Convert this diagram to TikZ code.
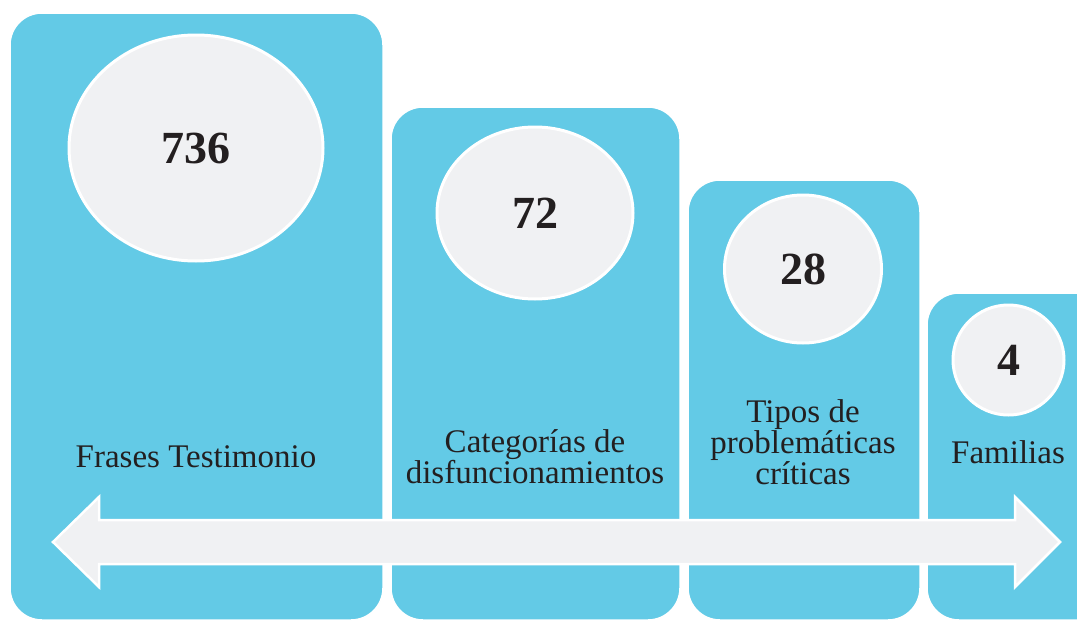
\documentclass[tikz,border=0pt]{standalone}
\usepackage{fontspec}
\setmainfont{Liberation Serif}
\usetikzlibrary{shapes.geometric}
\definecolor{boxblue}{HTML}{63CAE6}
\definecolor{bubble}{HTML}{F0F1F3}
\definecolor{ink}{HTML}{231F20}
\begin{document}
\begin{tikzpicture}[x=1pt,y=-1pt,
  panel/.style={fill=boxblue,draw=white,line width=1.5pt,rounded corners=32pt},
  bub/.style={ellipse,fill=bubble,draw=white,line width=3pt,inner sep=0pt,
    font=\fontsize{46}{46}\selectfont\bfseries,text=ink},
  lbl/.style={align=center,text=ink,font=\fontsize{33}{31}\selectfont,inner sep=0pt}]
\useasboundingbox (0,0) rectangle (1077,621);
\begin{scope}
\clip (0,0) rectangle (1077,621);
% panels
\path[panel] (10,13) rectangle (383,620);
\path[panel] (391,107) rectangle (680,620);
\path[panel] (688,180) rectangle (920,620);
\path[panel] (927,293) rectangle (1110,620);
% bubbles
\node[bub,minimum width=254pt,minimum height=226pt] (n1) at (196,148) {736};
\node[bub,minimum width=196pt,minimum height=172pt] (n2) at (535,213) {72};
\node[bub,minimum width=157pt,minimum height=148pt] (n3) at (803,269) {28};
\node[bub,minimum width=111pt,minimum height=110pt] (n4) at (1008.5,360) {4};
% labels
\node[lbl] (l1) at (196,457) {Frases Testimonio};
\node[lbl] (l2) at (535,457) {Categorías de\\disfuncionamientos};
\node[lbl] (l3) at (803,442) {Tipos de\\problemáticas\\críticas};
\node[lbl] (l4) at (1008,452) {Familias};
% double arrow
\filldraw[fill=bubble,draw=white,line width=2.5pt,line join=miter]
  (53,542) -- (99,497) -- (99,520) -- (1015,520) -- (1015,497) -- (1060,542)
  -- (1015,587) -- (1015,564) -- (99,564) -- (99,587) -- cycle;
\end{scope}
\end{tikzpicture}
\end{document}
